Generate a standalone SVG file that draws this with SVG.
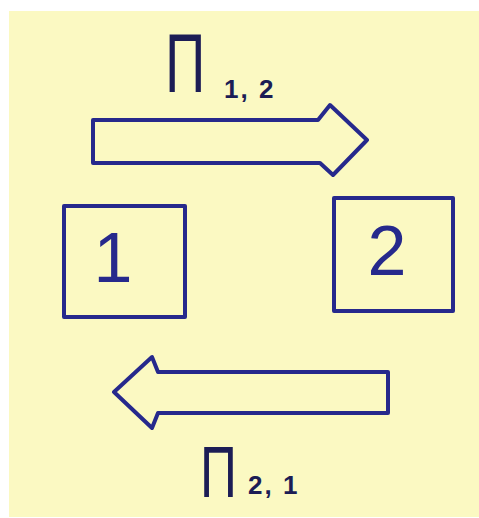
<svg xmlns="http://www.w3.org/2000/svg" width="479" height="518" viewBox="0 0 479 518">
<style>
.ink{fill:none;stroke:#26298c;stroke-width:4;stroke-linejoin:round;stroke-linecap:round}
.num{font-family:"Liberation Sans",Arial,sans-serif;fill:#26298c;font-size:70px;text-anchor:middle}
.pi{font-family:"Liberation Sans",Arial,sans-serif;fill:#1c1d55;font-size:80px}
.sub{font-family:"Liberation Sans",Arial,sans-serif;fill:#1c1d55;font-size:26px;font-weight:bold;letter-spacing:2px}
</style>
<rect width="479" height="518" fill="#ffffff"/>
<rect x="9" y="11" width="470" height="506" fill="#fbf9c2"/>
<g id="box1">
<rect class="ink" x="64" y="206" width="121" height="111"/>
<text class="num" x="113" y="282">1</text>
</g>
<g id="box2">
<rect class="ink" x="334" y="198" width="119" height="113"/>
<text class="num" x="387" y="275">2</text>
</g>
<g id="connectors">
<g id="flow12">
<path class="ink" d="M93,120 L318,120 L330,105 L367,140 L333,175 L320,163 L93,163 Z"/>
<text class="pi" transform="translate(165,92) scale(0.7,1.04)">Π</text>
<text class="sub" x="224" y="98">1, 2</text>
</g>
<g id="flow21">
<path class="ink" d="M388,372 L158,372 L152,357 L114,392 L152,428 L158,413 L388,413 Z"/>
<text class="pi" transform="translate(200,497) scale(0.64,0.9)">Π</text>
<text class="sub" x="248" y="494">2, 1</text>
</g>
</g>
</svg>
